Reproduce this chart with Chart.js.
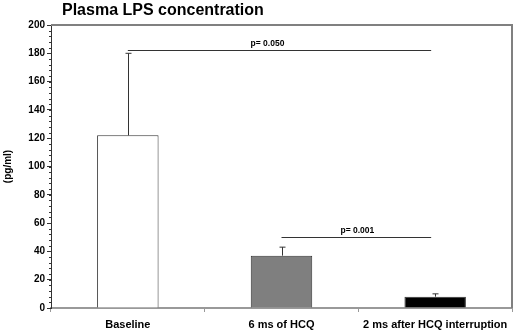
<!DOCTYPE html>
<html>
<head>
<meta charset="utf-8">
<script src="https://cdn.jsdelivr.net/npm/chart.js@4.4.1/dist/chart.umd.min.js"></script>
<style>
  html, body { margin: 0; padding: 0; background: #fff; }
  #wrap { width: 520px; height: 336px; position: relative; }
</style>
</head>
<body>
<div id="wrap"><canvas id="lpsChart" width="520" height="336"></canvas></div>
<script>
// data
var groups = ['Baseline', '6 ms of HCQ', '2 ms after HCQ interruption'];
var means = [122, 37, 8];
var sdUpper = [58, 6, 2];
var barColors = ['#ffffff', '#7f7f7f', '#000000'];
var yTicks = [0, 20, 40, 60, 80, 100, 120, 140, 160, 180, 200];

// significance brackets: from group, to group, level, label
var sigFrom = [0, 1];
var sigTo = [2, 2];
var sigLevel = [182, 50];
var sigText = ['p= 0.050', 'p= 0.001'];

var fontFam = '"Liberation Sans", Arial, sans-serif';

// draws frame, minor ticks, error bars, brackets and title
var extras = {
  id: 'extras',
  beforeDatasetsDraw(chart) {
    const a = chart.chartArea;
    const ctx = chart.ctx;
    const y = chart.scales.y;
    ctx.save();
    // gray frame top and right
    ctx.strokeStyle = '#808080';
    ctx.lineWidth = 2;
    ctx.beginPath();
    ctx.moveTo(a.left, a.top);
    ctx.lineTo(a.right, a.top);
    ctx.lineTo(a.right, a.bottom);
    ctx.stroke();
    // minor ticks
    ctx.strokeStyle = '#333';
    ctx.lineWidth = 1;
    for (let v = 0; v <= 200; v += 4) {
      const py = Math.round(y.getPixelForValue(v)) + 0.5;
      ctx.beginPath();
      ctx.moveTo(a.left - 2, py);
      ctx.lineTo(a.left, py);
      ctx.stroke();
    }
    ctx.restore();
  },
  afterDatasetsDraw(chart) {
    const ctx = chart.ctx;
    const x = chart.scales.x;
    const y = chart.scales.y;
    ctx.save();
    ctx.strokeStyle = '#333';
    ctx.lineWidth = 1;
    // error bars
    for (let i = 0; i < means.length; i++) {
      const px = Math.round(x.getPixelForValue(i)) + 0.5;
      const top = y.getPixelForValue(means[i] + sdUpper[i]);
      const base = y.getPixelForValue(means[i]);
      ctx.beginPath();
      ctx.moveTo(px, base);
      ctx.lineTo(px, top);
      ctx.moveTo(px - 3, top);
      ctx.lineTo(px + 3, top);
      ctx.stroke();
    }
    // brackets
    ctx.font = 'bold 8.5px ' + fontFam;
    ctx.fillStyle = '#000';
    ctx.textAlign = 'center';
    ctx.textBaseline = 'bottom';
    const textShift = [-12, 1];
    for (let i = 0; i < sigText.length; i++) {
      const x1 = x.getPixelForValue(sigFrom[i]);
      const x2 = x.getPixelForValue(sigTo[i]) - 4;
      const py = Math.round(y.getPixelForValue(sigLevel[i])) + 0.5;
      ctx.beginPath();
      ctx.moveTo(x1, py);
      ctx.lineTo(x2, py);
      ctx.stroke();
      ctx.fillText(sigText[i], (x1 + x2) / 2 + textShift[i], py - 3);
    }
    // title
    ctx.font = 'bold 16px ' + fontFam;
    ctx.textAlign = 'left';
    ctx.textBaseline = 'middle';
    ctx.fillText('Plasma LPS concentration', 62, 11);
    ctx.restore();
  }
};

new Chart(document.getElementById('lpsChart'), {
  type: 'bar',
  data: {
    labels: groups,
    datasets: [{
      data: means,
      backgroundColor: barColors,
      borderColor: '#333',
      borderWidth: 1,
      categoryPercentage: 1,
      barPercentage: 0.4
    }]
  },
  options: {
    responsive: false,
    animation: false,
    devicePixelRatio: 1,
    layout: { padding: { top: 25, right: 8, left: 2, bottom: 0 } },
    plugins: {
      legend: { display: false },
      tooltip: { enabled: false }
    },
    scales: {
      x: {
        grid: {
          offset: true,
          drawOnChartArea: false,
          tickLength: 4,
          color: '#999'
        },
        border: { color: '#999', width: 2 },
        ticks: {
          color: '#000',
          padding: 6,
          maxRotation: 0,
          autoSkip: false,
          font: { family: fontFam, weight: 'bold', size: 11 }
        },
        afterFit(s) { s.height = 28; }
      },
      y: {
        min: 0,
        max: 200,
        afterBuildTicks(s) { s.ticks = yTicks.map(v => ({ value: v })); },
        grid: { drawOnChartArea: false, tickLength: 4, color: '#333' },
        border: { color: '#333', width: 1 },
        ticks: {
          color: '#000',
          padding: 2,
          font: { family: fontFam, weight: 'bold', size: 10 }
        },
        title: {
          display: true,
          text: '(pg/ml)',
          color: '#000',
          padding: 0,
          font: { family: fontFam, weight: 'bold', size: 10 }
        },
        afterFit(s) { s.width = 49; }
      }
    }
  },
  plugins: [extras]
});
</script>
</body>
</html>
